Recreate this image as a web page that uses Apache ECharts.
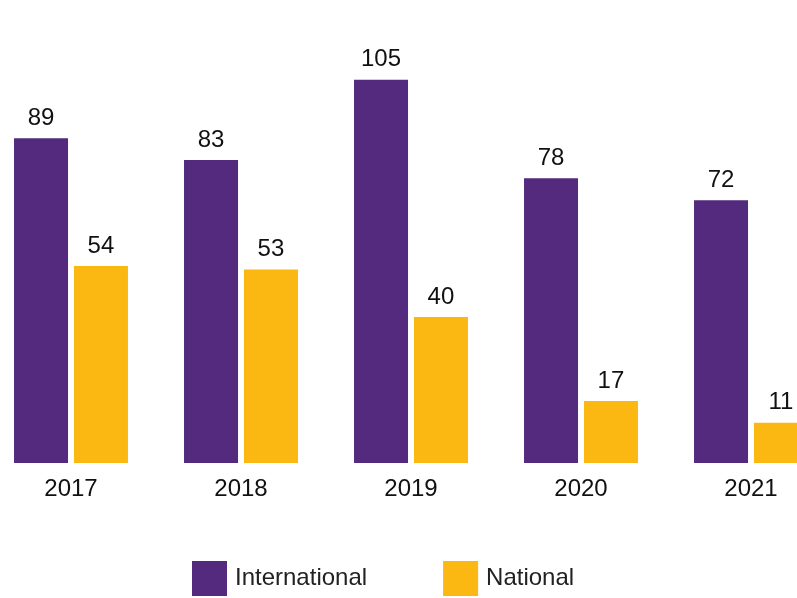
<!DOCTYPE html>
<html>
<head>
<meta charset="utf-8">
<script src="https://cdn.jsdelivr.net/npm/echarts@6/dist/echarts.min.js"></script>
<style>
  html, body { margin: 0; padding: 0; background: #fff; overflow: hidden; }
  #chart { width: 850px; height: 598px; margin-left: -14px; }
</style>
</head>
<body>
<div id="chart"></div>
<script>
var years = ["2017", "2018", "2019", "2020", "2021"];
var international = [89, 83, 105, 78, 72];
var national = [54, 53, 40, 17, 11];

var purple = "#532a7e";
var yellow = "#fbb813";
var font = "Liberation Sans, Arial, Helvetica, sans-serif";

// the plot runs past the right edge of the window, like the original
var myChart = echarts.init(document.getElementById("chart"));
var option = {
  animation: false,
  grid: {
    left: 0,
    right: 0,
    top: 25,
    bottom: 135
  },
  legend: {
    left: 201,
    top: 556,
    itemWidth: 35,
    itemHeight: 35,
    itemGap: 76,
    icon: "rect",
    data: ["International", "National"],
    textStyle: {
      fontFamily: font,
      fontSize: 24,
      color: "#222",
      padding: [0, 0, 0, 3]
    }
  },
  xAxis: {
    type: "category",
    data: years,
    axisLine: { show: false },
    axisTick: { show: false },
    axisLabel: {
      margin: 14,
      fontFamily: font,
      fontSize: 24,
      color: "#111"
    }
  },
  yAxis: {
    type: "value",
    min: 0,
    max: 120,
    show: false
  },
  series: [
    {
      name: "International",
      type: "bar",
      data: international,
      barWidth: 54,
      barGap: "11%",
      itemStyle: { color: purple },
      label: {
        show: true,
        position: "top",
        distance: 8,
        fontFamily: font,
        fontSize: 24,
        color: "#111"
      }
    },
    {
      name: "National",
      type: "bar",
      data: national,
      barWidth: 54,
      itemStyle: { color: yellow },
      label: {
        show: true,
        position: "top",
        distance: 8,
        fontFamily: font,
        fontSize: 24,
        color: "#111"
      }
    }
  ]
};
myChart.setOption(option);
</script>
</body>
</html>
